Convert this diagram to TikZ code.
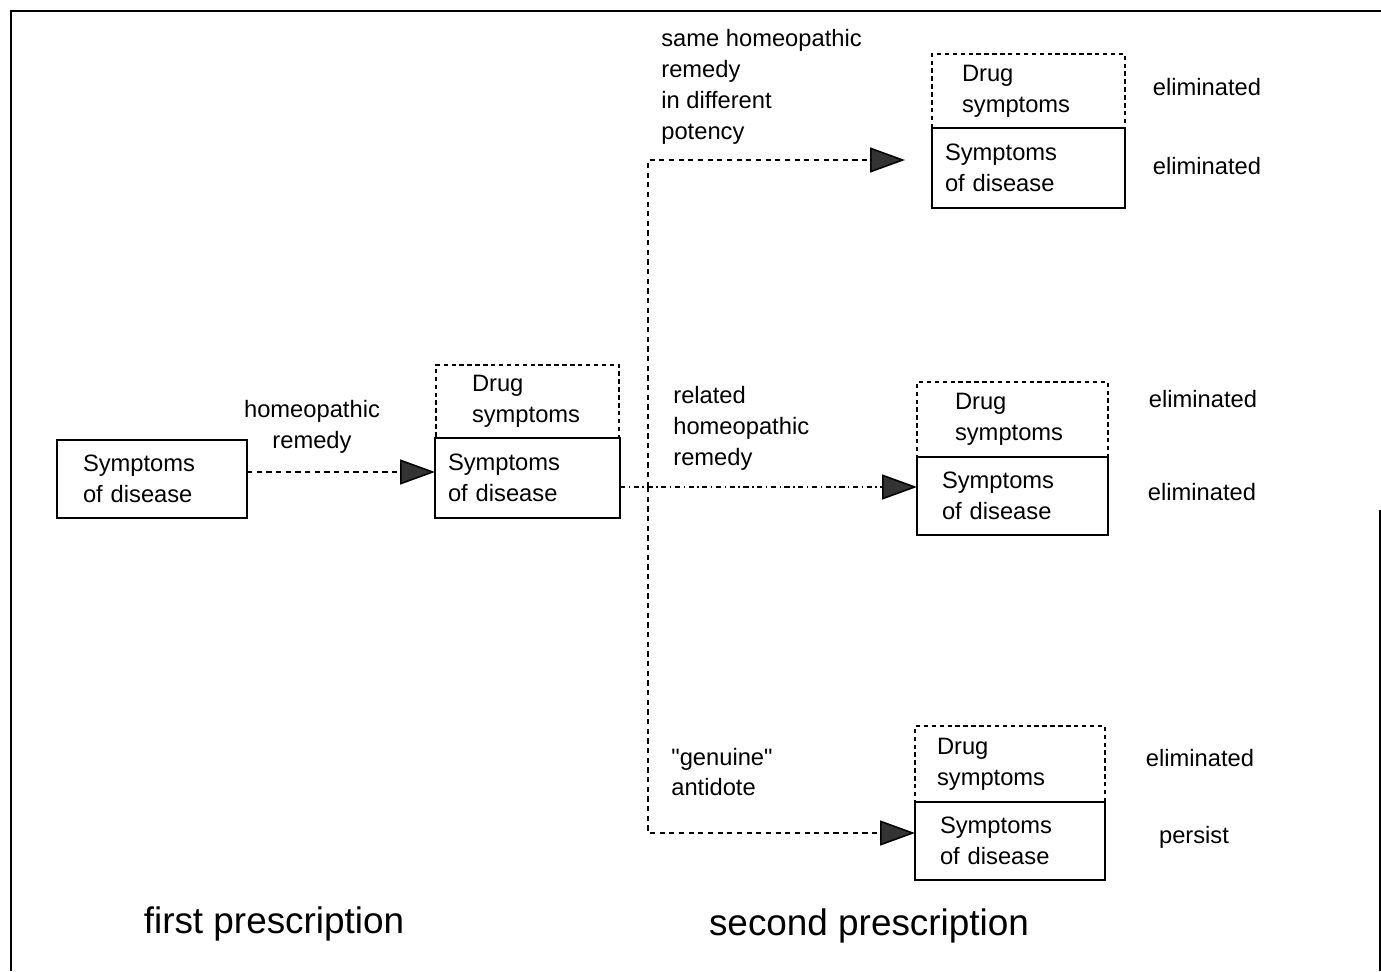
\documentclass[tikz,border=0pt]{standalone}
\usepackage{fontspec}
\setmainfont{Liberation Sans}
\usetikzlibrary{arrows.meta,positioning}

\tikzset{
  lbl/.style={font=\fontsize{13.5}{17.6}\selectfont, inner sep=0pt},
  symbox/.style={draw, line width=1.1pt, outer sep=0pt, align=left, font=\fontsize{13.5}{17.6}\selectfont, inner ysep=0pt},
  drugbox/.style={symbox, dash pattern=on 2.5pt off 2pt},
  flow/.style={line width=0.9pt, dash pattern=on 3pt off 2.5pt, -{Triangle[length=0.7cm,width=0.5cm,fill=black!80]}},
  big/.style={font=\fontsize{21}{25}\selectfont, inner sep=0pt}
}

\begin{document}
\begin{tikzpicture}[x=0.02cm,y=-0.02cm]
\useasboundingbox (0,0) rectangle (1381,971);
% frame
\draw[line width=1pt] (11,971) -- (11,11) -- (1381,11);
\draw[line width=1pt] (1380,510) -- (1380,971);

% first prescription
\node[symbox, minimum height=1.56cm, text width=2.76cm, inner xsep=0.52cm] (asym) at (152,479) {Symptoms\\of disease};
\node[symbox, minimum height=1.6cm, text width=3.18cm, inner xsep=0.26cm] (bsym) at (527.5,478) {Symptoms\\of disease};
\node[drugbox, minimum height=1.46cm, text width=2.22cm, inner xsep=0.72cm, above=0pt of bsym] (bdrug) {Drug\\symptoms};
\node[lbl, align=center] (remlbl) at (312,427) {homeopathic\\remedy};

% second prescription
\node[symbox, minimum height=1.6cm, text width=3.34cm, inner xsep=0.26cm] (tsym) at (1028.5,168) {Symptoms\\of disease};
\node[drugbox, minimum height=1.48cm, text width=2.66cm, inner xsep=0.6cm, above=0pt of tsym] (tdrug) {Drug\\symptoms};
\node[symbox, minimum height=1.56cm, text width=2.82cm, inner xsep=0.5cm] (msym) at (1012.5,496) {Symptoms\\of disease};
\node[drugbox, minimum height=1.5cm, text width=2.3cm, inner xsep=0.76cm, above=0pt of msym] (mdrug) {Drug\\symptoms};
\node[symbox, minimum height=1.56cm, text width=2.8cm, inner xsep=0.5cm] (lsym) at (1010,841) {Symptoms\\of disease};
\node[drugbox, minimum height=1.52cm, text width=2.92cm, inner xsep=0.44cm, above=0pt of lsym] (ldrug) {Drug\\symptoms};

\node[lbl, align=left, anchor=west] (samelbl) at (661,87) {same homeopathic\\remedy\\in different\\potency};
\node[lbl, align=left, anchor=west] (rellbl) at (673,428) {related\\homeopathic\\remedy};
\node[lbl, align=left, anchor=west] (antilbl) at (671,772) {\textquotedbl genuine\textquotedbl\\antidote};

\node[lbl] (elimtd) at (1207,87) {eliminated};
\node[lbl] (elimts) at (1207,166) {eliminated};
\node[lbl] (elimmd) at (1203,399) {eliminated};
\node[lbl] (elimms) at (1202,492) {eliminated};
\node[lbl] (elimld) at (1200,758) {eliminated};
\node[lbl] (persist) at (1194,837) {persist};

\node[big] (firstlbl) at (274,924) {first prescription};
\node[big] (secondlbl) at (869,926) {second prescription};

% connectors
\coordinate (aout) at ([yshift=0.14cm]asym.east);
\draw[flow] (aout) -- (aout -| bsym.west);
\coordinate (fork) at (648,487);
\draw[flow, dash pattern=on 3pt off 2pt on 0.8pt off 2pt] (bsym.east |- fork) -- (fork -| msym.west);
\draw[flow, shorten >=0.54cm] (fork) |- ([yshift=0.16cm]tsym.west);
\draw[flow] (fork) |- ([yshift=0.16cm]lsym.west);
\end{tikzpicture}
\end{document}
